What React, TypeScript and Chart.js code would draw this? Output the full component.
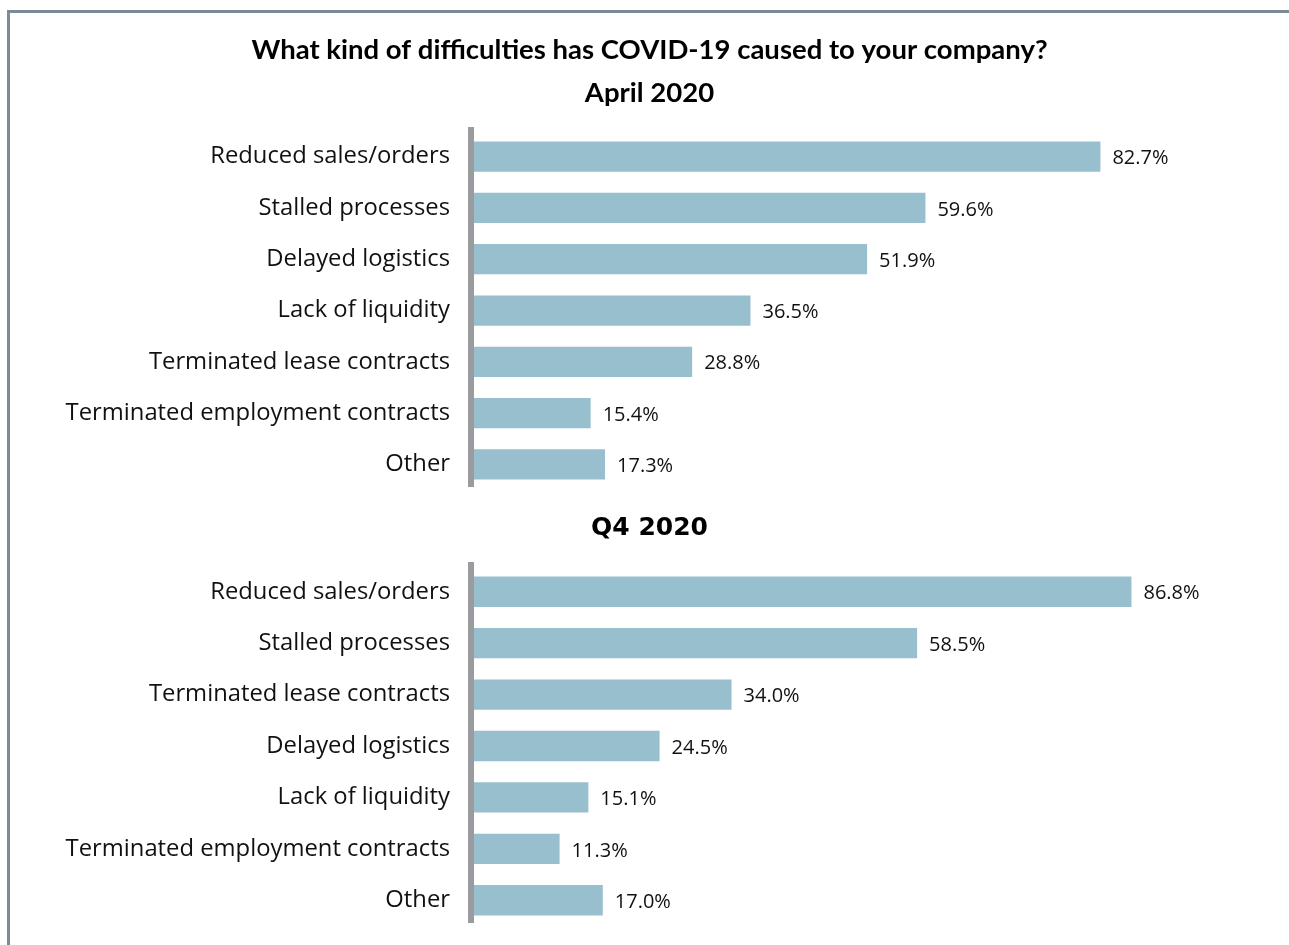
import React, { useEffect, useRef } from "react";
import { Chart, registerables } from "chart.js";

Chart.register(...registerables);

const titleLines = ["What kind of difficulties has COVID-19 caused to your company?", "April 2020"];
const secondTitle = "Q4 2020";

const categoriesApril = [
  "Reduced sales/orders",
  "Stalled processes",
  "Delayed logistics",
  "Lack of liquidity",
  "Terminated lease contracts",
  "Terminated employment contracts",
  "Other",
];
const valuesApril = [82.7, 59.6, 51.9, 36.5, 28.8, 15.4, 17.3];

const categoriesQ4 = [
  "Reduced sales/orders",
  "Stalled processes",
  "Terminated lease contracts",
  "Delayed logistics",
  "Lack of liquidity",
  "Terminated employment contracts",
  "Other",
];
const valuesQ4 = [86.8, 58.5, 34.0, 24.5, 15.1, 11.3, 17.0];

const X_MAX = 107.6;

const BAR_COLOR = "#97bfcd";
const AXIS_COLOR = "#9a9b9f";

const axisLinePlugin = {
  id: "axisLine",
  beforeDatasetsDraw(chart: any) {
    const { ctx, chartArea } = chart;
    ctx.save();
    ctx.fillStyle = AXIS_COLOR;
    ctx.fillRect(chartArea.left - 6, chartArea.top - 4, 6, chartArea.bottom - chartArea.top + 1);
    ctx.restore();
  },
};

const valueLabelPlugin = {
  id: "valueLabels",
  afterDatasetsDraw(chart: any) {
    const { ctx } = chart;
    const meta = chart.getDatasetMeta(0);
    const data = chart.data.datasets[0].data as number[];
    ctx.save();
    ctx.font = '20px "Open Sans"';
    ctx.fillStyle = "#111";
    ctx.textAlign = "left";
    ctx.textBaseline = "middle";
    meta.data.forEach((bar: any, i: number) => {
      ctx.fillText(data[i].toFixed(1) + "%", bar.x + 12, bar.y + 2);
    });
    ctx.restore();
  },
};

type Props = {
  labels: string[];
  values: number[];
  title: string | string[];
  titleFont: any;
  titlePadding: any;
  paddingBottom: number;
  style: React.CSSProperties;
};

function BarPanel({ labels, values, title, titleFont, titlePadding, paddingBottom, style }: Props) {
  const ref = useRef<HTMLCanvasElement | null>(null);
  useEffect(() => {
    if (!ref.current) return;
    const chart = new Chart(ref.current, {
      type: "bar",
      data: {
        labels,
        datasets: [
          {
            data: values,
            backgroundColor: BAR_COLOR,
            borderWidth: 0,
            barPercentage: 0.59,
            categoryPercentage: 1,
          },
        ],
      },
      options: {
        indexAxis: "y",
        animation: false,
        responsive: false,
        maintainAspectRatio: false,
        layout: { padding: { left: 0, right: 0, top: 0, bottom: paddingBottom } },
        plugins: {
          legend: { display: false },
          tooltip: { enabled: false },
          title: {
            display: true,
            text: title,
            color: "#000",
            font: titleFont,
            padding: titlePadding,
          },
        },
        scales: {
          x: { display: false, min: 0, max: X_MAX },
          y: {
            grid: { display: false, drawTicks: false },
            border: { display: false },
            ticks: {
              padding: 24,
              color: "#111",
              font: { family: "Open Sans", size: 23.8 },
              autoSkip: false,
            },
            afterFit: (scale: any) => {
              scale.width = 464;
              scale.paddingTop = 0;
              scale.paddingBottom = 0;
            },
          },
        },
      },
      plugins: [axisLinePlugin, valueLabelPlugin],
    });
    return () => chart.destroy();
  }, []);
  return (
    <canvas
      ref={ref}
      width={style.width as number}
      height={style.height as number}
      style={{ position: "absolute", ...style }}
    />
  );
}

export default function App() {
  return (
    <div style={{ position: "absolute", left: 0, top: 0, width: 1289, height: 945, background: "#fff", overflow: "hidden" }}>
      <div
        style={{
          position: "absolute",
          left: 7,
          top: 10,
          width: 1300,
          height: 960,
          borderTop: "3px solid #7e8a96",
          borderLeft: "3px solid #7e8a96",
          boxSizing: "border-box",
        }}
      />
      <BarPanel
        labels={categoriesApril}
        values={valuesApril}
        title={titleLines}
        titleFont={{ family: "Lato", size: 27.5, weight: "bold", lineHeight: 1.564 }}
        titlePadding={{ top: 28.5, bottom: 16.5 }}
        paddingBottom={10}
        style={{ left: 10, top: 0, width: 1279, height: 500 }}
      />
      <BarPanel
        labels={categoriesQ4}
        values={valuesQ4}
        title={secondTitle}
        titleFont={{ family: "DejaVu Sans", size: 25, weight: "bold", lineHeight: 1.2 }}
        titlePadding={{ top: 13, bottom: 23 }}
        paddingBottom={19}
        style={{ left: 10, top: 500, width: 1279, height: 445 }}
      />
    </div>
  );
}
